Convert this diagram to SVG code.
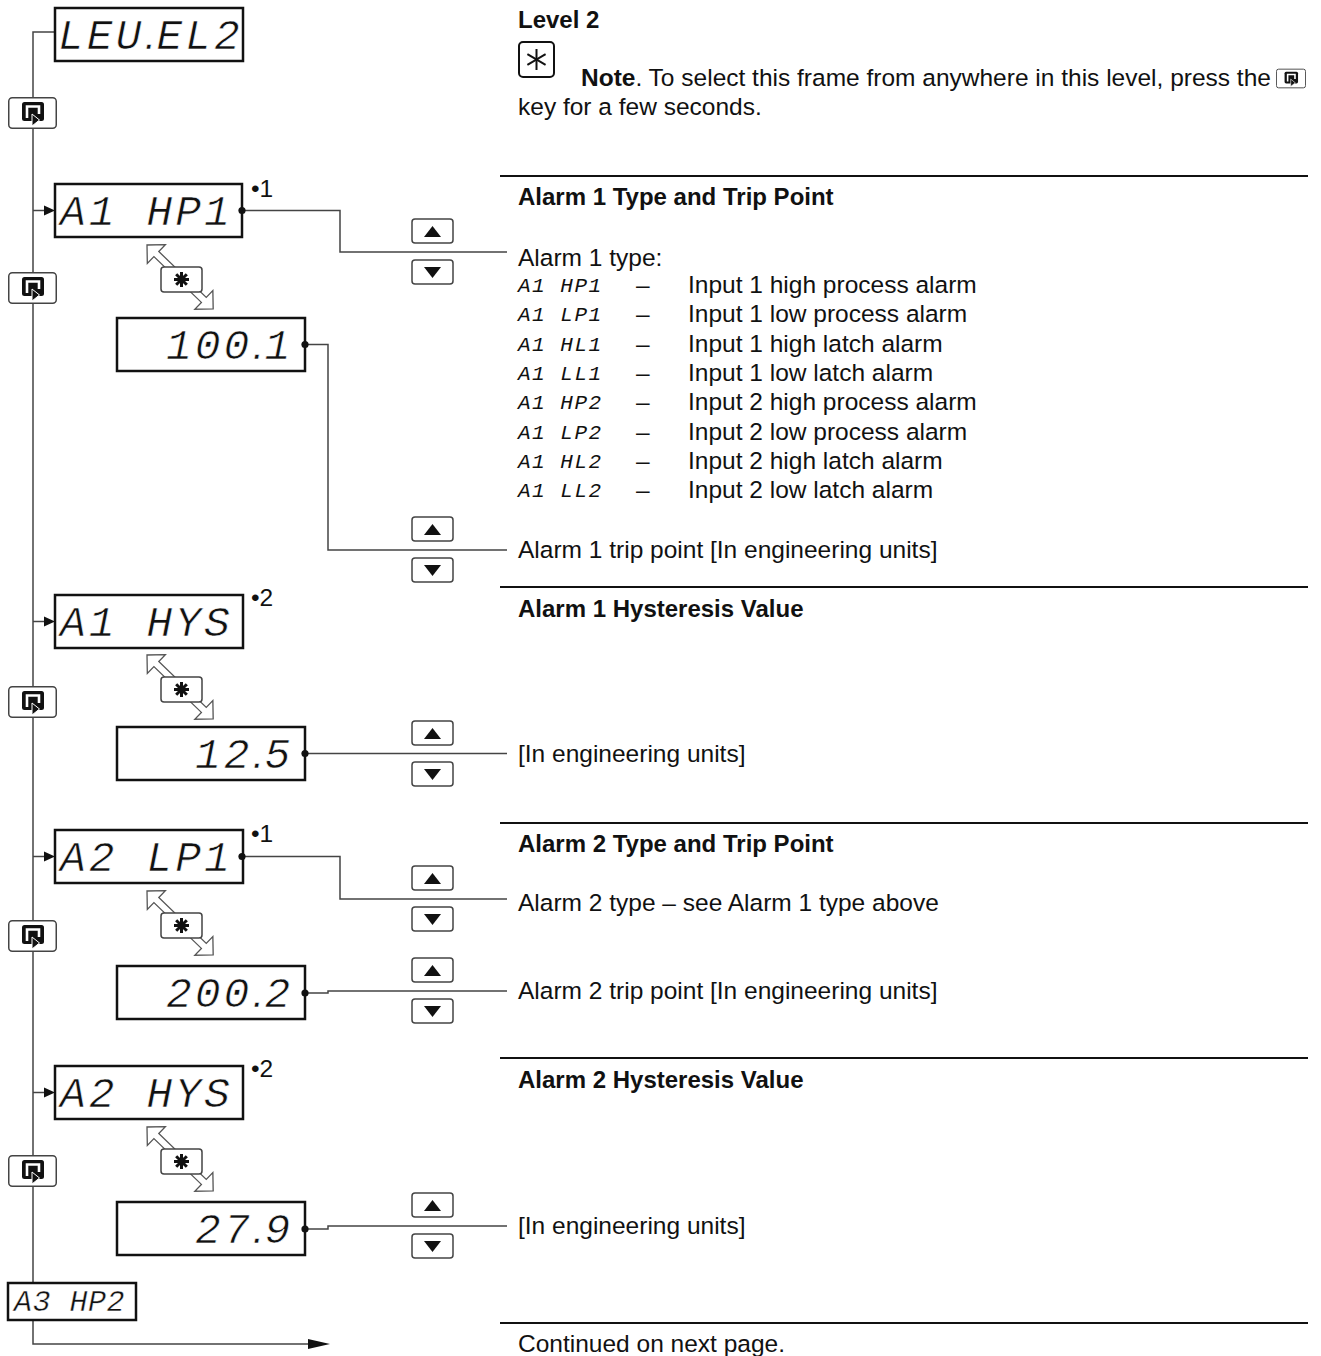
<svg xmlns="http://www.w3.org/2000/svg" xmlns:xlink="http://www.w3.org/1999/xlink" width="1321" height="1356" viewBox="0 0 1321 1356">
<style>
.disp{fill:#fff;stroke:#111;stroke-width:2.5}
.seg{font-family:"Liberation Mono","DejaVu Sans Mono",monospace;font-style:italic;fill:#111}
.big{font-size:43px;letter-spacing:3px;stroke:#fff;stroke-width:0.6}
.pt{font-family:"Liberation Sans",Arial,sans-serif;letter-spacing:0}
.sm{font-size:21px;letter-spacing:1.5px}
.t{font-family:"Liberation Sans",Arial,sans-serif;font-size:24.5px;fill:#111}
.b{font-weight:bold;font-size:24px}
.con{fill:none;stroke:#444;stroke-width:1.5}
.sep{stroke:#111;stroke-width:2}
.key{fill:#fff;stroke:#444;stroke-width:1.5}
.dot{fill:#111}
.hol{fill:#fff;stroke:#555;stroke-width:1.3}
</style>
<defs>
<symbol id="scroll" viewBox="0 0 49 32">
<rect x="0.75" y="0.75" width="47.5" height="30.5" rx="3.5" class="key"/>
<rect x="14" y="5" width="22" height="19" rx="2.5" fill="#111"/>
<path d="M19,21 V9.5 H31 V17" fill="none" stroke="#fff" stroke-width="2.6"/>
<polygon points="24,17 24,29 31.5,23" fill="#111" stroke="#fff" stroke-width="1"/>
</symbol>
<g id="star">
<rect x="0" y="0" width="41" height="25" rx="3" class="key"/>
<g stroke="#111" stroke-width="3" stroke-linecap="butt">
<line x1="20.5" y1="5" x2="20.5" y2="20"/>
<line x1="13" y1="12.5" x2="28" y2="12.5"/>
<line x1="15.2" y1="7.2" x2="25.8" y2="17.8"/>
<line x1="25.8" y1="7.2" x2="15.2" y2="17.8"/>
</g>
</g>
<g id="ud">
<rect x="0" y="-33" width="41" height="24" rx="3" class="key"/>
<polygon points="12,-15 29,-15 20.5,-26" fill="#111"/>
<rect x="0" y="8" width="41" height="24" rx="3" class="key"/>
<polygon points="12,15 29,15 20.5,26" fill="#111"/>
</g>
<path id="hollow" class="hol" d="M0,0 L13,-13 L13,-3.5 L79,-3.5 L79,-13 L92,0 L79,13 L79,3.5 L13,3.5 L13,13 Z"/>
</defs>

<g id="connectors">
<path class="con" d="M55,32 H33 V1344 H312"/>
<polygon points="308,1339 330,1344 308,1349" fill="#111"/>
<path class="con" d="M33,210.5 H46"/>
<polygon points="44,205.5 55,210.5 44,215.5" fill="#111"/>
<path class="con" d="M33,621.5 H46"/>
<polygon points="44,616.5 55,621.5 44,626.5" fill="#111"/>
<path class="con" d="M33,856.5 H46"/>
<polygon points="44,851.5 55,856.5 44,861.5" fill="#111"/>
<path class="con" d="M33,1092.5 H46"/>
<polygon points="44,1087.5 55,1092.5 44,1097.5" fill="#111"/>
<path class="con" d="M242,210.5 H340 V252 H507"/>
<path class="con" d="M305,344.5 H328 V550 H507"/>
<path class="con" d="M305,753.5 H507"/>
<path class="con" d="M242,856.5 H340 V899 H507"/>
<path class="con" d="M305,993 H328 V991 H507"/>
<path class="con" d="M305,1229 H328 V1226 H507"/>
<use xlink:href="#hollow" transform="translate(147,245) rotate(44)"/>
<use xlink:href="#hollow" transform="translate(147,655) rotate(44)"/>
<use xlink:href="#hollow" transform="translate(147,891) rotate(44)"/>
<use xlink:href="#hollow" transform="translate(147,1127) rotate(44)"/>
</g>

<g id="keys">
<use xlink:href="#scroll" x="8" y="97" width="49" height="32"/>
<use xlink:href="#scroll" x="8" y="272" width="49" height="32"/>
<use xlink:href="#scroll" x="8" y="686" width="49" height="32"/>
<use xlink:href="#scroll" x="8" y="920" width="49" height="32"/>
<use xlink:href="#scroll" x="8" y="1155" width="49" height="32"/>
<use xlink:href="#star" x="161" y="267"/>
<use xlink:href="#star" x="161" y="677"/>
<use xlink:href="#star" x="161" y="913"/>
<use xlink:href="#star" x="161" y="1149"/>
<use xlink:href="#ud" x="412" y="252"/>
<use xlink:href="#ud" x="412" y="550"/>
<use xlink:href="#ud" x="412" y="754"/>
<use xlink:href="#ud" x="412" y="899"/>
<use xlink:href="#ud" x="412" y="991"/>
<use xlink:href="#ud" x="412" y="1226"/>
</g>

<g id="n-level2"><rect class="disp" x="55" y="8" width="188" height="53"/>
<text class="seg big" x="58" y="49">LEU<tspan class="pt">.</tspan>EL2</text></g>

<g id="n-a1hp1"><rect class="disp" x="55" y="184" width="187" height="53"/>
<text class="seg big" x="60" y="225">A1 HP1</text><circle class="dot" cx="242" cy="210.5" r="3.6"/>
<text class="t" x="251" y="197" font-size="22">•1</text></g>

<g id="n-1001"><rect class="disp" x="117" y="318" width="188" height="53"/>
<text class="seg big" x="166" y="359">100<tspan class="pt">.</tspan>1</text><circle class="dot" cx="305" cy="344.5" r="3.6"/></g>

<g id="n-a1hys"><rect class="disp" x="55" y="595" width="188" height="53"/>
<text class="seg big" x="60" y="636">A1 HYS</text>
<text class="t" x="251" y="606" font-size="22">•2</text></g>

<g id="n-125"><rect class="disp" x="117" y="727" width="188" height="53"/>
<text class="seg big" x="195" y="768">12<tspan class="pt">.</tspan>5</text><circle class="dot" cx="305" cy="753.5" r="3.6"/></g>

<g id="n-a2lp1"><rect class="disp" x="55" y="830" width="188" height="53"/>
<text class="seg big" x="60" y="871">A2 LP1</text><circle class="dot" cx="242" cy="856.5" r="3.6"/>
<text class="t" x="251" y="842" font-size="22">•1</text></g>

<g id="n-2002"><rect class="disp" x="117" y="966" width="188" height="53"/>
<text class="seg big" x="166" y="1007">200<tspan class="pt">.</tspan>2</text><circle class="dot" cx="305" cy="993" r="3.6"/></g>

<g id="n-a2hys"><rect class="disp" x="55" y="1066" width="188" height="53"/>
<text class="seg big" x="60" y="1107">A2 HYS</text>
<text class="t" x="251" y="1077" font-size="22">•2</text></g>

<g id="n-279"><rect class="disp" x="117" y="1202" width="188" height="53"/>
<text class="seg big" x="195" y="1243">27<tspan class="pt">.</tspan>9</text><circle class="dot" cx="305" cy="1229" r="3.6"/></g>

<g id="n-a3hp2"><rect class="disp" x="8" y="1283" width="128" height="37" stroke-width="2"/>
<text class="seg" x="14" y="1311" font-size="30" letter-spacing="0.5" stroke="#fff" stroke-width="0.4">A3 HP2</text></g>

<g id="text">
<text class="t b" x="518" y="28">Level 2</text>
<rect x="519" y="42" width="35" height="35" rx="4" fill="#fff" stroke="#111" stroke-width="2"/>
<g stroke="#111" stroke-width="2">
<line x1="536.5" y1="49" x2="536.5" y2="70"/>
<line x1="527.4" y1="54.2" x2="545.6" y2="64.8"/>
<line x1="545.6" y1="54.2" x2="527.4" y2="64.8"/>
</g>
<text class="t" x="581" y="86"><tspan font-weight="bold">Note</tspan>. To select this frame from anywhere in this level, press the</text>
<use xlink:href="#scroll" x="1276" y="68" width="30" height="21"/>
<text class="t" x="518" y="115">key for a few seconds.</text>

<line class="sep" x1="500" y1="176" x2="1308" y2="176"/>
<line class="sep" x1="500" y1="587" x2="1308" y2="587"/>
<line class="sep" x1="500" y1="823" x2="1308" y2="823"/>
<line class="sep" x1="500" y1="1058" x2="1308" y2="1058"/>
<line class="sep" x1="500" y1="1323" x2="1308" y2="1323"/>

<text class="t b" x="518" y="205">Alarm 1 Type and Trip Point</text>
<text class="t" x="518" y="266">Alarm 1 type:</text>
<text class="seg sm" x="518" y="292">A1 HP1</text><text class="t" x="636" y="293">–</text><text class="t" x="688" y="293">Input 1 high process alarm</text>
<text class="seg sm" x="518" y="321">A1 LP1</text><text class="t" x="636" y="322">–</text><text class="t" x="688" y="322">Input 1 low process alarm</text>
<text class="seg sm" x="518" y="351">A1 HL1</text><text class="t" x="636" y="352">–</text><text class="t" x="688" y="352">Input 1 high latch alarm</text>
<text class="seg sm" x="518" y="380">A1 LL1</text><text class="t" x="636" y="381">–</text><text class="t" x="688" y="381">Input 1 low latch alarm</text>
<text class="seg sm" x="518" y="409">A1 HP2</text><text class="t" x="636" y="410">–</text><text class="t" x="688" y="410">Input 2 high process alarm</text>
<text class="seg sm" x="518" y="439">A1 LP2</text><text class="t" x="636" y="440">–</text><text class="t" x="688" y="440">Input 2 low process alarm</text>
<text class="seg sm" x="518" y="468">A1 HL2</text><text class="t" x="636" y="469">–</text><text class="t" x="688" y="469">Input 2 high latch alarm</text>
<text class="seg sm" x="518" y="497">A1 LL2</text><text class="t" x="636" y="498">–</text><text class="t" x="688" y="498">Input 2 low latch alarm</text>
<text class="t" x="518" y="558">Alarm 1 trip point [In engineering units]</text>

<text class="t b" x="518" y="617">Alarm 1 Hysteresis Value</text>
<text class="t" x="518" y="762">[In engineering units]</text>

<text class="t b" x="518" y="852">Alarm 2 Type and Trip Point</text>
<text class="t" x="518" y="911">Alarm 2 type – see Alarm 1 type above</text>
<text class="t" x="518" y="999">Alarm 2 trip point [In engineering units]</text>

<text class="t b" x="518" y="1088">Alarm 2 Hysteresis Value</text>
<text class="t" x="518" y="1234">[In engineering units]</text>

<text class="t" x="518" y="1352">Continued on next page.</text>
</g>
</svg>
